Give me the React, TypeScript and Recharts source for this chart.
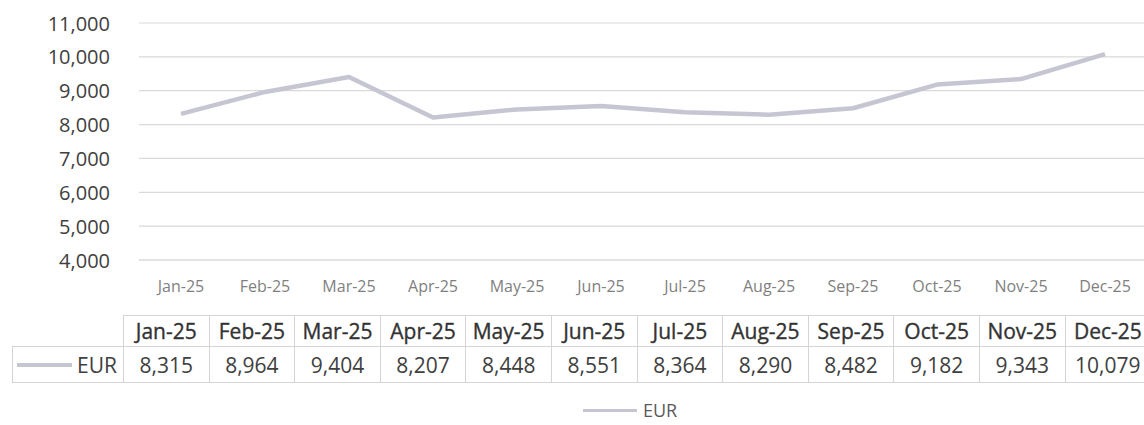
import React from "react";
import { LineChart, Line, XAxis, YAxis, CartesianGrid } from "recharts";

const MONTHS = ["Jan-25", "Feb-25", "Mar-25", "Apr-25", "May-25", "Jun-25", "Jul-25", "Aug-25", "Sep-25", "Oct-25", "Nov-25", "Dec-25"];
const EUR = [8315, 8964, 9404, 8207, 8448, 8551, 8364, 8290, 8482, 9182, 9343, 10079];
const Y_TICKS = [4000, 5000, 6000, 7000, 8000, 9000, 10000, 11000];
const SERIES_NAME = "EUR";

const LINE_COLOR = "#c6c6d2";
const GRID = "#d9d9d9";
const TEXT = "#404040";
const FONT = "'Open Sans', sans-serif";
const COL_W = 85.6;

const fmt = (v: number) => v.toLocaleString("en-US");

function YTick({ x, y, payload }: any) {
  return (
    <text x={x - 21} y={y} textAnchor="end" dominantBaseline="central"
      fill={TEXT} fontSize={20} fontFamily={FONT}>
      {fmt(payload.value)}
    </text>
  );
}

function XTick({ x, y, payload }: any) {
  return (
    <text x={x} y={y + 18} textAnchor="middle" dominantBaseline="central"
      fill="#7f7f7f" fontSize={16} fontFamily={FONT}>
      {payload.value}
    </text>
  );
}

export default function App() {
  const data = MONTHS.map((m, i) => ({ month: m, [SERIES_NAME]: EUR[i] }));
  const cell: React.CSSProperties = {
    boxSizing: "border-box",
    width: COL_W,
    flex: "none",
    display: "flex",
    alignItems: "center",
    justifyContent: "center",
    borderLeft: "1px solid #d4d4d4",
    color: TEXT,
    fontSize: 21,
    whiteSpace: "nowrap",
  };

  return (
    <div style={{ position: "absolute", left: 0, top: 0, width: 1144, height: 425, overflow: "hidden", background: "#fff", fontFamily: FONT }}>
      <LineChart width={1160} height={300} data={data} margin={{ top: 23, right: 13, left: 0, bottom: 10 }}>
        <CartesianGrid vertical={false} stroke={GRID} strokeWidth={1.2} />
        <XAxis dataKey="month" height={30} interval={0} tickLine={false} padding={{ left: 42, right: 42 }}
          axisLine={{ stroke: GRID, strokeWidth: 1.2 }} tick={(p: any) => <XTick {...p} />} />
        <YAxis width={139} domain={[4000, 11000]} ticks={Y_TICKS} interval={0}
          axisLine={false} tickLine={false} tick={(p: any) => <YTick {...p} />} />
        <Line type="linear" dataKey={SERIES_NAME} stroke={LINE_COLOR} strokeWidth={4.5}
          strokeLinejoin="round" dot={false} isAnimationActive={false} />
      </LineChart>

      {/* data table */}
      <div style={{ position: "absolute", left: 12, top: 315, width: 1200 }}>
        <div style={{ display: "flex", height: 30, marginLeft: 111, borderTop: "1px solid #d4d4d4" }}>
          {MONTHS.map((m) => (
            <div key={m} style={{ ...cell, height: 30, color: "#333", WebkitTextStroke: "0.35px #333" }}>{m}</div>
          ))}
        </div>
        <div style={{ display: "flex", height: 37, borderTop: "1px solid #d4d4d4", borderBottom: "1px solid #d4d4d4", boxSizing: "border-box" }}>
          <div style={{ ...cell, width: 111, justifyContent: "flex-end", paddingRight: 6 }}>
            <span style={{ display: "inline-block", width: 55, height: 4, background: LINE_COLOR, marginRight: 5 }} />
            {SERIES_NAME}
          </div>
          {EUR.map((v, i) => (
            <div key={MONTHS[i]} style={cell}>{fmt(v)}</div>
          ))}
        </div>
      </div>

      {/* legend */}
      <div style={{ position: "absolute", left: 583, top: 400, width: 140, height: 20, lineHeight: "20px", display: "flex", alignItems: "center", color: "#595959", fontSize: 18, whiteSpace: "nowrap" }}>
        <span style={{ display: "inline-block", width: 54, height: 3, background: LINE_COLOR, marginRight: 6 }} />
        {SERIES_NAME}
      </div>
    </div>
  );
}
